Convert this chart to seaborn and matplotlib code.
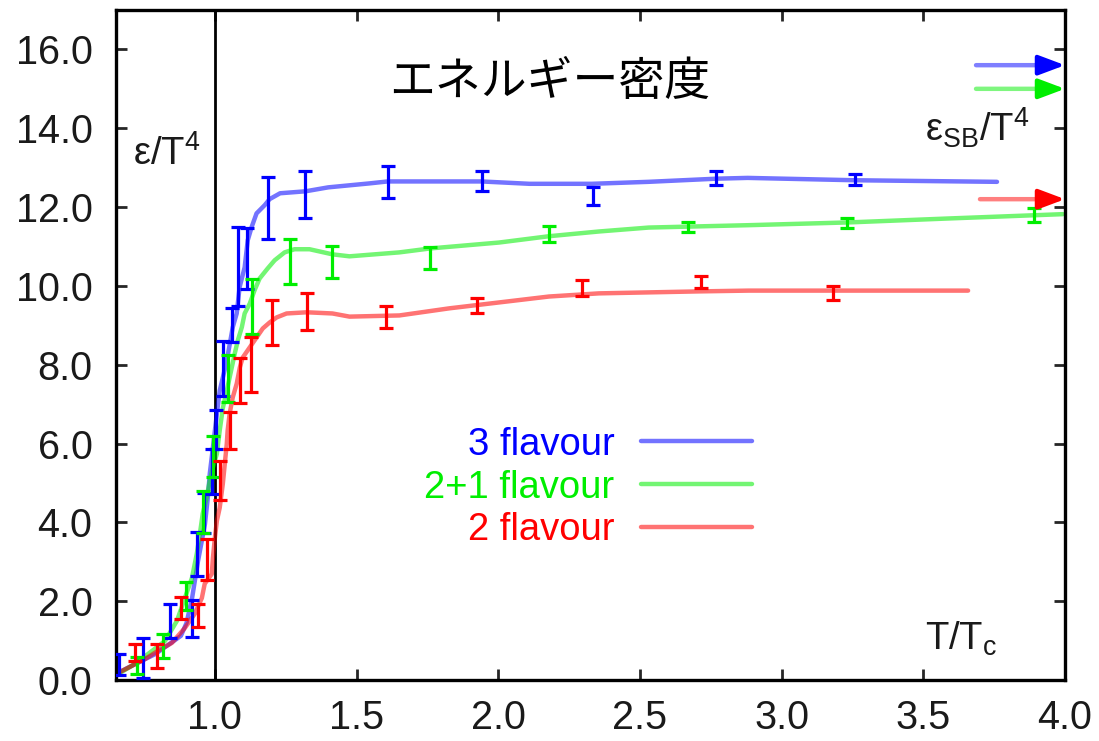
import numpy as np
import pandas as pd
import matplotlib
matplotlib.use("Agg")
import matplotlib.pyplot as plt
import seaborn as sns

# ---------------- data ----------------
# lattice data points (x = T/Tc, y = eps/T^4, err)
blue_x = [0.66, 0.745, 0.84, 0.92, 0.936, 0.96, 0.99, 1.003, 1.03, 1.06, 1.08, 1.112, 1.186, 1.317, 1.612, 1.943, 2.334, 2.767, 3.26]
blue_y = [0.40, 0.56, 1.50, 1.55, 3.2, 4.24, 5.28, 6.35, 7.9, 9.0, 10.5, 10.7, 11.97, 12.31, 12.63, 12.66, 12.27, 12.74, 12.70]
blue_e = [0.27, 0.50, 0.43, 0.47, 0.55, 0.5, 0.57, 0.5, 0.69, 0.43, 1.0, 0.78, 0.79, 0.6, 0.4, 0.25, 0.23, 0.17, 0.15]

green_x = [0.725, 0.816, 0.898, 0.957, 0.993, 1.045, 1.13, 1.264, 1.415, 1.76, 2.18, 2.67, 3.232, 3.89]
green_y = [0.36, 0.86, 2.13, 4.27, 5.67, 7.65, 9.48, 10.62, 10.6, 10.7, 11.31, 11.49, 11.59, 11.79]
green_e = [0.22, 0.30, 0.35, 0.53, 0.53, 0.6, 0.7, 0.56, 0.4, 0.28, 0.2, 0.13, 0.13, 0.18]

red_x = [0.718, 0.795, 0.88, 0.94, 0.971, 1.017, 1.052, 1.087, 1.126, 1.2, 1.324, 1.605, 1.925, 2.295, 2.714, 3.183]
red_y = [0.70, 0.61, 1.83, 1.64, 3.07, 5.06, 6.32, 7.61, 8.0, 9.07, 9.34, 9.21, 9.5, 9.95, 10.09, 9.81]
red_e = [0.22, 0.30, 0.28, 0.29, 0.52, 0.5, 0.47, 0.57, 0.7, 0.56, 0.47, 0.27, 0.2, 0.21, 0.15, 0.18]

# smooth curves
cblue_x = [0.65, 0.69, 0.79, 0.88, 0.90, 0.92, 0.94, 0.965, 0.975, 0.982, 0.993, 1.007, 1.017, 1.042, 1.063,
           1.077, 1.087, 1.105, 1.116, 1.13, 1.147, 1.176, 1.193, 1.23, 1.32, 1.4, 1.545, 1.61, 1.94, 2.11,
           2.33, 2.53, 2.77, 2.88, 3.26, 3.76]
cblue_y = [0.15, 0.3, 0.66, 1.12, 1.45, 2.1, 3.0, 3.96, 4.63, 5.24, 5.9, 6.76, 7.34, 8.1, 8.95,
           9.3, 9.96, 10.47, 11.16, 11.5, 11.84, 12.05, 12.2, 12.35, 12.4, 12.5, 12.6, 12.65, 12.65, 12.59,
           12.59, 12.64, 12.72, 12.74, 12.68, 12.64]

cgreen_x = [0.658, 0.707, 0.764, 0.824, 0.866, 0.894, 0.919, 0.936, 0.947, 0.957, 0.971, 0.982, 0.993, 1.007,
            1.017, 1.028, 1.042, 1.07, 1.081, 1.095, 1.105, 1.123, 1.14, 1.158, 1.186, 1.211, 1.246, 1.281,
            1.334, 1.415, 1.475, 1.651, 1.76, 2.003, 2.179, 2.355, 2.531, 2.883, 3.235, 3.588, 3.993]
cgreen_y = [0.15, 0.36, 0.66, 0.99, 1.5, 2.08, 2.59, 3.2, 3.71, 4.22, 4.63, 5.06, 5.39, 5.74,
            6.33, 6.9, 7.34, 8.28, 8.62, 8.95, 9.3, 9.55, 9.89, 10.19, 10.44, 10.65, 10.85, 10.93,
            10.93, 10.8, 10.75, 10.85, 10.95, 11.1, 11.26, 11.38, 11.48, 11.54, 11.61, 11.71, 11.82]

cred_x = [0.647, 0.672, 0.707, 0.753, 0.799, 0.848, 0.894, 0.929, 0.954, 0.964, 0.989, 0.993, 1.0, 1.007,
          1.017, 1.028, 1.035, 1.042, 1.045, 1.052, 1.063, 1.077, 1.088, 1.098, 1.123, 1.147, 1.169, 1.193,
          1.218, 1.253, 1.324, 1.415, 1.475, 1.651, 1.827, 2.003, 2.179, 2.355, 2.707, 2.883, 3.235, 3.658]
cred_y = [0.15, 0.23, 0.36, 0.53, 0.74, 0.94, 1.32, 1.68, 2.08, 2.44, 2.69, 3.1, 3.61, 4.04,
          4.37, 4.98, 5.49, 6.0, 6.33, 6.76, 7.17, 7.52, 7.93, 8.18, 8.44, 8.69, 8.92, 9.07,
          9.2, 9.3, 9.33, 9.3, 9.22, 9.25, 9.43, 9.58, 9.73, 9.81, 9.86, 9.88, 9.88, 9.88]

# Stefan-Boltzmann limits (arrows)
sb_values = [15.6, 15.0, 12.2]
sb_start = [3.686, 3.686, 3.70]

labels = ["3 flavour", "2+1 flavour", "2 flavour"]
colors = ["#0000ff", "#00ee00", "#ff0000"]

xticks = [1.0, 1.5, 2.0, 2.5, 3.0, 3.5, 4.0]
yticks = [0, 2, 4, 6, 8, 10, 12, 14, 16]

# ---------------- style ----------------
sns.set_theme(style="ticks")
plt.rcParams['font.family'] = ['Liberation Sans', 'Noto Sans CJK JP', 'DejaVu Sans']
plt.rcParams['mathtext.fontset'] = 'custom'
plt.rcParams['mathtext.rm'] = 'Liberation Sans'
plt.rcParams['mathtext.it'] = 'Liberation Sans'
plt.rcParams['mathtext.bf'] = 'Liberation Sans'

FS = 27.5
FS_TICK = 28.5
fig = plt.figure(figsize=(10.99, 7.41), dpi=100)
ax = fig.add_axes([116 / 1099, 61 / 741, 949 / 1099, 670 / 741])

curves = [(cblue_x, cblue_y), (cgreen_x, cgreen_y), (cred_x, cred_y)]
points = [(blue_x, blue_y, blue_e), (green_x, green_y, green_e), (red_x, red_y, red_e)]

handles = []
for (cx, cy), lab, col in zip(curves, labels, colors):
    df = pd.DataFrame({"x": cx, "y": cy})
    sns.lineplot(data=df, x="x", y="y", sort=False, estimator=None, color=col,
                 alpha=0.55, lw=3.2, ax=ax, label=lab, legend=False)
    handles.append(ax.lines[-1])

for (px, py, pe), col in zip(points, colors):
    ax.errorbar(px, py, yerr=pe, fmt="none", ecolor=col, elinewidth=2.3,
                capsize=4.8, capthick=2.3, zorder=3)

for v, s, col in zip(sb_values, sb_start, colors):
    # light shaft
    ax.annotate("", xy=(3.94, v), xytext=(s, v), annotation_clip=False,
                arrowprops=dict(arrowstyle="-", color=col, lw=3.2, alpha=0.5,
                                shrinkA=0, shrinkB=0))
    # solid head
    ax.annotate("", xy=(4.0, v), xytext=(3.92, v), annotation_clip=False,
                arrowprops=dict(arrowstyle="-|>,head_length=0.8,head_width=0.3",
                                color=col, lw=3, mutation_scale=20,
                                shrinkA=0, shrinkB=0))

ax.axvline(1.0, color="black", lw=2, zorder=1)

ax.set_xlim(0.651, 4.0)
ax.set_ylim(0, 17.0)
ax.set_xticks(xticks)
ax.set_yticks(yticks)
ax.set_xticklabels([f"{t:.1f}" for t in xticks])
ax.set_yticklabels([f"{t:.1f}" for t in yticks])
ax.set_xlabel("")
ax.set_ylabel("")
ax.tick_params(direction="in", length=8, width=2, top=True, right=True,
               labelsize=FS_TICK, labelcolor="#1a1a1a")
ax.tick_params(axis="y", pad=17)
ax.tick_params(axis="x", pad=14)
for sp in ax.spines.values():
    sp.set_linewidth(2.4)
    sp.set_color("black")
    sp.set_visible(True)

# texts
ax.text(0.457, 0.893, "エネルギー密度", transform=ax.transAxes, ha="center", va="center",
        fontsize=33, family=['Noto Sans CJK JP', 'DejaVu Sans'], color="black")
ax.text(0.018, 0.769, "ε/T$^4$", transform=ax.transAxes, ha="left", va="baseline",
        fontsize=FS, color="#1a1a1a")
ax.text(0.8525, 0.803, "ε$_{SB}$/T$^4$", transform=ax.transAxes, ha="left", va="baseline",
        fontsize=FS, color="#1a1a1a")
ax.text(0.8525, 0.045, "T/T$_c$", transform=ax.transAxes, ha="left", va="baseline",
        fontsize=FS, color="#1a1a1a")

leg = ax.legend(handles=handles, labels=labels, loc="upper right",
                bbox_to_anchor=(0.670, 0.378), frameon=False, markerfirst=False,
                fontsize=FS, handlelength=2.9, handletextpad=0.7, labelspacing=0.18,
                borderpad=0, borderaxespad=0, labelcolor="linecolor")

fig.savefig("out.png", dpi=100)
